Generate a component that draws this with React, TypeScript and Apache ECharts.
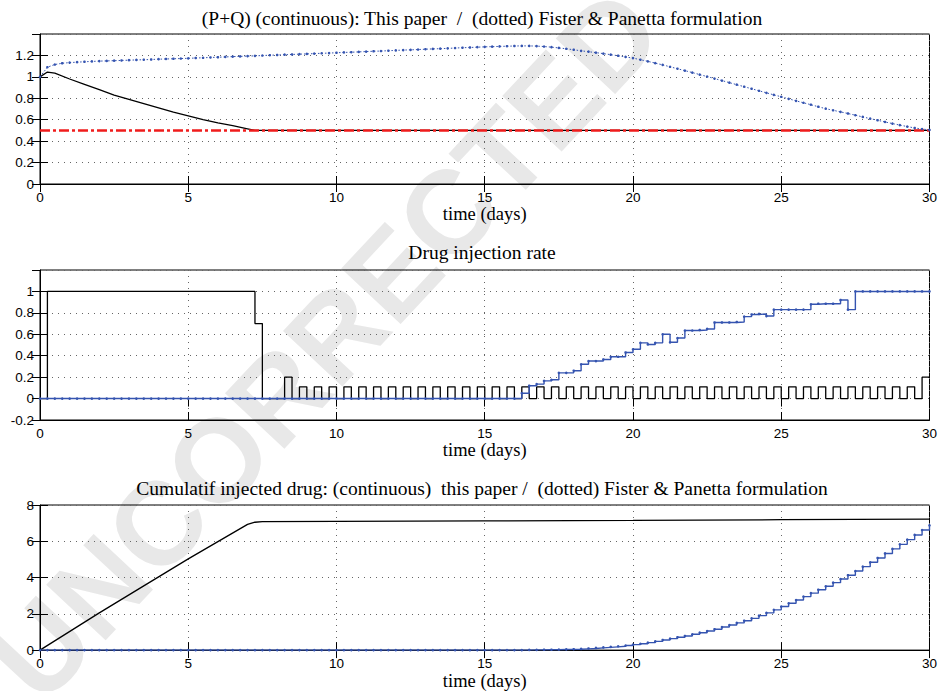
import React, { useEffect, useRef } from "react";
import * as echarts from "echarts";

// ---------- data ----------
const STEP = 0.25; // sampling step (days) of the Fister & Panetta runs and injection stairs

const titles = [
  "(P+Q) (continuous): This paper  /  (dotted) Fister & Panetta formulation",
  "Drug injection rate",
  "Cumulatif injected drug: (continuous)  this paper /  (dotted) Fister & Panetta formulation",
];
const xAxisName = "time (days)";

// Panel 1: P+Q
const pqPaperTimes = [0, 0.25, 0.5, 1, 1.5, 2, 2.5, 3, 3.5, 4, 4.5, 5, 5.5, 6, 6.5, 7, 7.25, 30];
const pqPaperValues = [1.0, 1.045, 1.035, 0.98, 0.93, 0.88, 0.83, 0.79, 0.75, 0.71, 0.67, 0.635, 0.6, 0.57, 0.545, 0.515, 0.5, 0.5];
const targetLevel = 0.5;
const pqFisterValues = [
  1.0, 1.09, 1.115, 1.127, 1.133, 1.137, 1.141, 1.144, 1.147, 1.149, 1.151, 1.153, 1.156, 1.158, 1.16, 1.162, 1.165, 1.167, 1.169, 1.171, 1.173,
  1.176, 1.178, 1.181, 1.183, 1.186, 1.189, 1.191, 1.194, 1.196, 1.199, 1.202, 1.204, 1.207, 1.209, 1.212, 1.214, 1.217, 1.22, 1.222, 1.225,
  1.228, 1.23, 1.233, 1.236, 1.239, 1.241, 1.244, 1.247, 1.25, 1.252, 1.255, 1.258, 1.261, 1.263, 1.266, 1.269, 1.272, 1.274, 1.277, 1.28,
  1.282, 1.284, 1.286, 1.288, 1.289, 1.289, 1.287, 1.283, 1.277, 1.27, 1.262, 1.253, 1.243, 1.235, 1.226, 1.217, 1.207, 1.197, 1.186, 1.175,
  1.16, 1.145, 1.128, 1.112, 1.094, 1.076, 1.058, 1.04, 1.021, 1.003, 0.984, 0.965, 0.946, 0.927, 0.908, 0.889, 0.87, 0.851, 0.832, 0.814,
  0.795, 0.776, 0.758, 0.74, 0.721, 0.703, 0.688, 0.673, 0.658, 0.642, 0.626, 0.61, 0.595, 0.579, 0.564, 0.55, 0.536, 0.523, 0.513, 0.505,
];

// Panel 2: injection rate (value held over each quarter day)
const ratePaper = [
  0,
  1, 1, 1, 1, 1, 1, 1, 1, 1, 1, 1, 1, 1, 1, 1, 1, 1, 1, 1, 1, 1, 1, 1, 1, 1, 1, 1, 1,
  0.7, 0, 0, 0, 0.2, 0,
  0.11, 0, 0.11, 0, 0.11, 0, 0.11, 0, 0.11, 0, 0.11, 0,
  0.11, 0, 0.11, 0, 0.11, 0, 0.11, 0, 0.11, 0, 0.11, 0,
  0.11, 0, 0.11, 0, 0.11, 0, 0.11, 0, 0.11, 0, 0.11, 0,
  0.11, 0, 0.11, 0, 0.11, 0, 0.11, 0, 0.11, 0, 0.11, 0,
  0.11, 0, 0.11, 0, 0.11, 0, 0.11, 0, 0.11, 0, 0.11, 0,
  0.11, 0, 0.11, 0, 0.11, 0, 0.11, 0, 0.11, 0, 0.11, 0,
  0.11, 0, 0.11, 0, 0.11, 0, 0.11, 0, 0.11, 0, 0.11, 0,
  0.2, 0.2,
];
const rateFister = [
  0, 0, 0, 0, 0, 0, 0, 0, 0, 0, 0, 0, 0, 0, 0, 0, 0, 0, 0, 0,
  0, 0, 0, 0, 0, 0, 0, 0, 0, 0, 0, 0, 0, 0, 0, 0, 0, 0, 0, 0,
  0, 0, 0, 0, 0, 0, 0, 0, 0, 0, 0, 0, 0, 0, 0, 0, 0, 0, 0, 0,
  0, 0, 0, 0, 0,
  0.05, 0.12, 0.135, 0.165, 0.175, 0.24, 0.24, 0.26, 0.32, 0.35, 0.35, 0.365, 0.39, 0.39, 0.43,
  0.46, 0.52, 0.505, 0.52, 0.6, 0.525, 0.565, 0.635, 0.635, 0.64, 0.65, 0.71, 0.71, 0.71, 0.715,
  0.765, 0.785, 0.79, 0.77, 0.83, 0.83, 0.83, 0.83, 0.83, 0.88, 0.885, 0.885, 0.885, 0.92, 0.83,
  1, 1, 1, 1, 1, 1, 1, 1, 1, 1, 1,
];

// Panel 3: cumulative injected drug
const cumPaperTimes = [0, 2, 5, 7, 7.25, 7.5, 10, 15, 20, 25, 30];
const cumPaperValues = [0, 2.05, 5.03, 6.93, 7.05, 7.08, 7.1, 7.12, 7.15, 7.19, 7.22];
const cumFister = [
  0, 0, 0, 0, 0, 0, 0, 0, 0, 0, 0, 0, 0, 0, 0, 0, 0, 0, 0, 0,
  0, 0, 0, 0, 0, 0, 0, 0, 0, 0, 0, 0, 0, 0, 0, 0, 0, 0, 0, 0,
  0, 0, 0, 0, 0, 0, 0, 0, 0, 0, 0, 0, 0, 0, 0, 0, 0, 0, 0, 0,
  0, 0, 0, 0, 0,
  0.0, 0.01, 0.01, 0.02, 0.02, 0.03, 0.04, 0.05, 0.07, 0.09, 0.12, 0.15, 0.18, 0.21, 0.25,
  0.3, 0.35, 0.41, 0.48, 0.56, 0.63, 0.71, 0.78, 0.87, 0.96, 1.05, 1.15, 1.27, 1.38, 1.5,
  1.62, 1.75, 1.9, 2.05, 2.22, 2.4, 2.58, 2.76, 2.95, 3.14, 3.33, 3.52, 3.72, 3.92, 4.13,
  4.36, 4.6, 4.84, 5.08, 5.33, 5.58, 5.83, 6.09, 6.35, 6.62, 6.88,
];

const watermark = "UNCORRECTED";

// ---------- styling ----------
const SERIF = "Liberation Serif";
const SANS = "Liberation Sans";
const BLUE = "#3554b0";
const RED = "#f01c1c";
const GRID_COLOR = "#666";

const gridBoxes = [
  { left: 40, right: 8, top: 34, height: 150 },
  { left: 40, right: 8, top: 270, height: 150 },
  { left: 40, right: 8, top: 505, height: 149 },
];
const yRanges = [
  { min: 0, max: 1.4, interval: 0.2, showMax: false },
  { min: -0.2, max: 1.2, interval: 0.2, showMax: false },
  { min: 0, max: 8, interval: 2, showMax: true },
];

const quarterPairs = (vals: number[]) => vals.map((v, i) => [i * STEP, v]);
const zipPairs = (ts: number[], vs: number[]) => ts.map((t, i) => [t, vs[i]]);

function buildOption(): any {
  const tick = { show: true, inside: true, length: 8, lineStyle: { color: "#000", width: 1 } };
  const xAxis: any[] = [];
  const yAxis: any[] = [];
  gridBoxes.forEach((_, g) => {
    xAxis.push({
      type: "value", gridIndex: g, min: 0, max: 30, interval: 5, position: "bottom",
      name: xAxisName, nameLocation: "middle", nameGap: 15,
      nameTextStyle: { fontFamily: SERIF, fontSize: 18.5, color: "#000" },
      axisLine: { show: true, onZero: false, lineStyle: { color: "#000", width: 1 } },
      axisTick: tick,
      axisLabel: { color: "#000", fontFamily: SANS, fontSize: 13.5, margin: 6 },
      splitLine: { show: true, lineStyle: { color: GRID_COLOR, type: [1, 5], width: 1 } },
    });
    xAxis.push({
      type: "value", gridIndex: g, min: 0, max: 30, interval: 5, position: "top",
      axisLine: { show: false }, axisTick: tick, axisLabel: { show: false }, splitLine: { show: false },
    });
  });
  yRanges.forEach((r, g) => {
    yAxis.push({
      type: "value", gridIndex: g, min: r.min, max: r.max, interval: r.interval, position: "left",
      axisLine: { show: true, onZero: false, lineStyle: { color: "#000", width: 1 } },
      axisTick: tick,
      axisLabel: { color: "#000", fontFamily: SANS, fontSize: 13.5, margin: 6, showMaxLabel: r.showMax },
      splitLine: { show: true, lineStyle: { color: GRID_COLOR, type: [1, 5], width: 1 } },
    });
    yAxis.push({
      type: "value", gridIndex: g, min: r.min, max: r.max, interval: r.interval, position: "right",
      axisLine: { show: false }, axisTick: tick, axisLabel: { show: false }, splitLine: { show: false },
    });
  });

  const series: any[] = [
    // panel 1
    {
      type: "line", xAxisIndex: 0, yAxisIndex: 0, data: zipPairs(pqPaperTimes, pqPaperValues),
      showSymbol: false, symbol: "none", lineStyle: { color: "#000", width: 1.3 }, z: 3,
    },
    {
      type: "line", xAxisIndex: 0, yAxisIndex: 0, data: [[0, targetLevel], [30, targetLevel]],
      symbol: "none", lineStyle: { color: RED, width: 2.6, type: [10, 3, 3, 3] }, z: 4,
    },
    {
      type: "line", xAxisIndex: 0, yAxisIndex: 0, data: quarterPairs(pqFisterValues),
      symbol: "circle", symbolSize: 2.6, itemStyle: { color: BLUE },
      lineStyle: { color: BLUE, width: 1, type: [1.5, 2] }, z: 5,
    },
    // panel 2
    {
      type: "line", xAxisIndex: 2, yAxisIndex: 2, data: quarterPairs(ratePaper), step: "end",
      symbol: "none", lineStyle: { color: "#000", width: 1.3 }, z: 3,
    },
    {
      type: "line", xAxisIndex: 2, yAxisIndex: 2, data: quarterPairs(rateFister), step: "end",
      symbol: "circle", symbolSize: 2.6, itemStyle: { color: BLUE },
      lineStyle: { color: BLUE, width: 1.4 }, z: 4,
    },
    // panel 3
    {
      type: "line", xAxisIndex: 4, yAxisIndex: 4, data: zipPairs(cumPaperTimes, cumPaperValues),
      symbol: "none", lineStyle: { color: "#000", width: 1.3 }, z: 3,
    },
    {
      type: "line", xAxisIndex: 4, yAxisIndex: 4, data: quarterPairs(cumFister), step: "end",
      symbol: "circle", symbolSize: 2.6, itemStyle: { color: BLUE },
      lineStyle: { color: BLUE, width: 1.4 }, z: 4,
    },
  ];

  const titleCenters = [19, 253, 489];
  return {
    animation: false,
    backgroundColor: "#fff",
    title: titles.map((t, i) => ({
      text: t, left: 482, top: titleCenters[i] - 11, textAlign: "center", padding: 0,
      textStyle: { fontFamily: SERIF, fontSize: 19.5, fontWeight: "normal", color: "#000" },
    })),
    graphic: {
      elements: [
        {
          type: "text", x: 325, y: 345, rotation: (47 * Math.PI) / 180, z: -10, silent: true,
          style: {
            text: watermark, fontFamily: SANS, fontWeight: "bold", fontSize: 118, fill: "#e8e8e8",
            align: "center", verticalAlign: "middle",
          },
        },
      ],
    },
    grid: gridBoxes.map((b) => ({ ...b, show: true, borderColor: "#000", borderWidth: 1, backgroundColor: "transparent" })),
    xAxis,
    yAxis,
    series,
  };
}

export default function App() {
  const ref = useRef<HTMLDivElement>(null);
  useEffect(() => {
    if (!ref.current) return;
    const chart = echarts.init(ref.current, undefined, { renderer: "svg" });
    chart.setOption(buildOption());
    return () => chart.dispose();
  }, []);
  return <div ref={ref} style={{ width: 940, height: 691, position: "absolute", left: 0, top: 0 }} />;
}
